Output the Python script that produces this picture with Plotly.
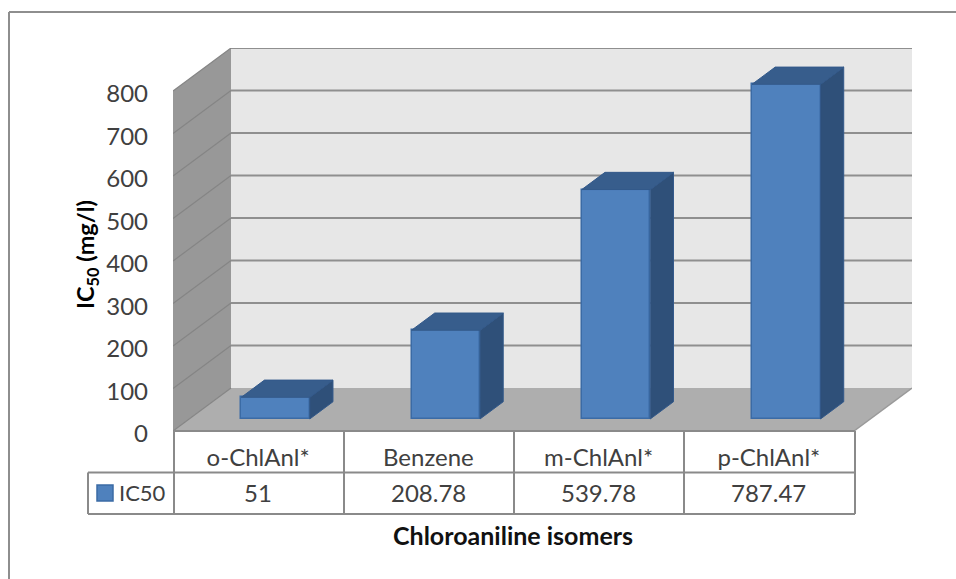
import plotly.graph_objects as go

categories = ["o-ChlAnl*", "Benzene", "m-ChlAnl*", "p-ChlAnl*"]
ic50 = [51, 208.78, 539.78, 787.47]
y_ticks = [0, 100, 200, 300, 400, 500, 600, 700, 800]
series_name = "IC50"

FONT = "Lato"
W, H = 956, 579
L, R, T, B = 173, 912, 48, 431          # plot-area pixel box
UX = (855 - 174) / 4                    # pixels per category
UY = 340 / 800                          # pixels per value unit
DX = 58 / UX                            # wall depth in x-axis units
DY = 43 / UY                            # wall depth in y-axis units
BAR_D = 0.30                            # bar front plane depth
BAR_LIFT = 0.28 * DY                    # value-axis lift of the bar front plane
BAR_W = 68.5 / UX
BAR_DEPTH = 0.40                        # bar depth fraction


def px(x):
    return (x - L) / (R - L)


def py(y):
    return (B - y) / (B - T)


def proj(x, v, d):
    return x + d * DX, v + d * DY


def poly(points):
    return "M" + " L".join(f"{x},{y}" for x, y in points) + " Z"


XMIN, XMAX = -0.5, 3.5
shapes = []
# walls and floor
shapes.append(dict(type="path", layer="below", xref="x", yref="y", line=dict(width=0), fillcolor="#e7e7e7",
                   path=poly([proj(XMIN, 0, 1), proj(XMAX, 0, 1), proj(XMAX, 800, 1), proj(XMIN, 800, 1)])))
shapes.append(dict(type="path", layer="below", xref="x", yref="y", line=dict(width=0), fillcolor="#989898",
                   path=poly([proj(XMIN, 0, 0), proj(XMIN, 0, 1), proj(XMIN, 800, 1), proj(XMIN, 800, 0)])))
shapes.append(dict(type="path", layer="below", xref="x", yref="y", line=dict(width=0), fillcolor="#aeaeae",
                   path=poly([proj(XMIN, 0, 0), proj(XMAX, 0, 0), proj(XMAX, 0, 1), proj(XMIN, 0, 1)])))
# gridlines
for t in y_ticks:
    x0, y0 = proj(XMIN, t, 0)
    x1, y1 = proj(XMIN, t, 1)
    x2, y2 = proj(XMAX, t, 1)
    shapes.append(dict(type="line", layer="below", xref="x", yref="y", x0=x0, y0=y0, x1=x1, y1=y1,
                       line=dict(color="#858585", width=1.2)))
    if t > 0:
        shapes.append(dict(type="line", layer="below", xref="x", yref="y", x0=x1, y0=y1, x1=x2, y1=y2,
                           line=dict(color="#8f8f8f", width=2)))
# floor right edge
x0, y0 = proj(XMAX, 0, 0)
x1, y1 = proj(XMAX, 0, 1)
shapes.append(dict(type="line", layer="below", xref="x", yref="y", x0=x0, y0=y0, x1=x1, y1=y1,
                   line=dict(color="#9a9a9a", width=1.5)))

TABLE = dict(color="#8a8a8a", width=2)
# frame of the picture
shapes.append(dict(type="line", xref="paper", yref="paper", x0=px(9), y0=py(12), x1=px(956), y1=py(12),
                   line=dict(color="#8e8e8e", width=2)))
shapes.append(dict(type="line", xref="paper", yref="paper", x0=px(9), y0=py(12), x1=px(9), y1=py(579),
                   line=dict(color="#8e8e8e", width=2)))
# data table
for y in (431, 472.5, 514):
    shapes.append(dict(type="line", xref="paper", yref="paper", x0=px(174 if y == 431 else 88), y0=py(y),
                       x1=px(855), y1=py(y), line=TABLE))
for x in (174, 344, 514, 684, 855):
    shapes.append(dict(type="line", xref="paper", yref="paper", x0=px(x), y0=py(431), x1=px(x), y1=py(514),
                       line=TABLE))
shapes.append(dict(type="line", xref="paper", yref="paper", x0=px(88), y0=py(472.5), x1=px(88), y1=py(514),
                   line=TABLE))
# legend key in the table
shapes.append(dict(type="rect", xref="paper", yref="paper", x0=px(97), y0=py(485), x1=px(113), y1=py(501),
                   fillcolor="#4f81bd", line=dict(color="#3b6ba5", width=1.5)))

fig = go.Figure()

xs_front = [i + BAR_D * DX for i in range(len(categories))]
fig.add_trace(go.Bar(
    x=xs_front, y=ic50, base=[BAR_LIFT] * len(ic50), width=BAR_W, name=series_name,
    marker=dict(color="#4f81bd", line=dict(color="#3b6ba5", width=1.5)),
    showlegend=False, hoverinfo="skip"))

top_x, top_y, side_x, side_y = [], [], [], []
for xf, v in zip(xs_front, ic50):
    a = xf - BAR_W / 2
    b = xf + BAR_W / 2
    front = BAR_LIFT
    ddx, ddy = BAR_DEPTH * DX, BAR_DEPTH * DY
    top_x += [a, b, b + ddx, a + ddx, a, None]
    top_y += [front + v, front + v, front + v + ddy, front + v + ddy, front + v, None]
    side_x += [b, b + ddx, b + ddx, b, b, None]
    side_y += [front, front + ddy, front + v + ddy, front + v, front, None]

fig.add_trace(go.Scatter(x=side_x, y=side_y, mode="lines", fill="toself", fillcolor="#2f5079",
                         line=dict(color="#33598a", width=1), showlegend=False, hoverinfo="skip"))
fig.add_trace(go.Scatter(x=top_x, y=top_y, mode="lines", fill="toself", fillcolor="#375d8c",
                         line=dict(color="#33598a", width=1), showlegend=False, hoverinfo="skip"))

annotations = []
for i, v in enumerate(ic50):
    annotations.append(dict(x=i, xref="x", y=py(493), yref="paper", yanchor="middle", xanchor="center",
                            text=f"{v:g}", showarrow=False,
                            font=dict(family=FONT, size=24, color="#404040")))
annotations.append(dict(x=px(117), xref="paper", y=py(492), yref="paper", xanchor="left", yanchor="middle",
                        text=series_name, showarrow=False, font=dict(family=FONT, size=22, color="#404040")))
annotations.append(dict(x=px(87), xref="paper", y=py(255), yref="paper", xanchor="center", yanchor="middle",
                        text="<b>IC<sub>50</sub> (mg/l)</b>",
                        textangle=-90, showarrow=False, font=dict(family=FONT, size=23.5, color="#000000")))
annotations.append(dict(x=px(513), xref="paper", y=py(535), yref="paper", xanchor="center", yanchor="middle",
                        text="<b>Chloroaniline isomers</b>",
                        showarrow=False, font=dict(family=FONT, size=25, color="#111111")))

fig.update_layout(
    width=W, height=H, autosize=False,
    margin=dict(l=L, r=W - R, t=T, b=H - B, pad=0),
    paper_bgcolor="white", plot_bgcolor="rgba(0,0,0,0)",
    shapes=shapes, annotations=annotations,
    bargap=0, showlegend=False,
    xaxis=dict(range=[XMIN, XMAX + DX], tickmode="array", tickvals=list(range(len(categories))),
               ticktext=categories, showgrid=False, zeroline=False, showline=False, ticks="",
               ticklabelstandoff=10, tickfont=dict(family=FONT, size=24, color="#404040")),
    yaxis=dict(range=[0, 800 + DY], tickmode="array", tickvals=y_ticks, ticktext=[str(t) for t in y_ticks],
               showgrid=False, zeroline=False, showline=False, ticks="", ticklabelstandoff=24,
               ticklabelshift=3, tickfont=dict(family=FONT, size=24, color="#404040")),
)

fig.write_html("out.html", config={"displayModeBar": False},
               post_script="document.body.style.margin='0';document.body.style.overflow='hidden';")
